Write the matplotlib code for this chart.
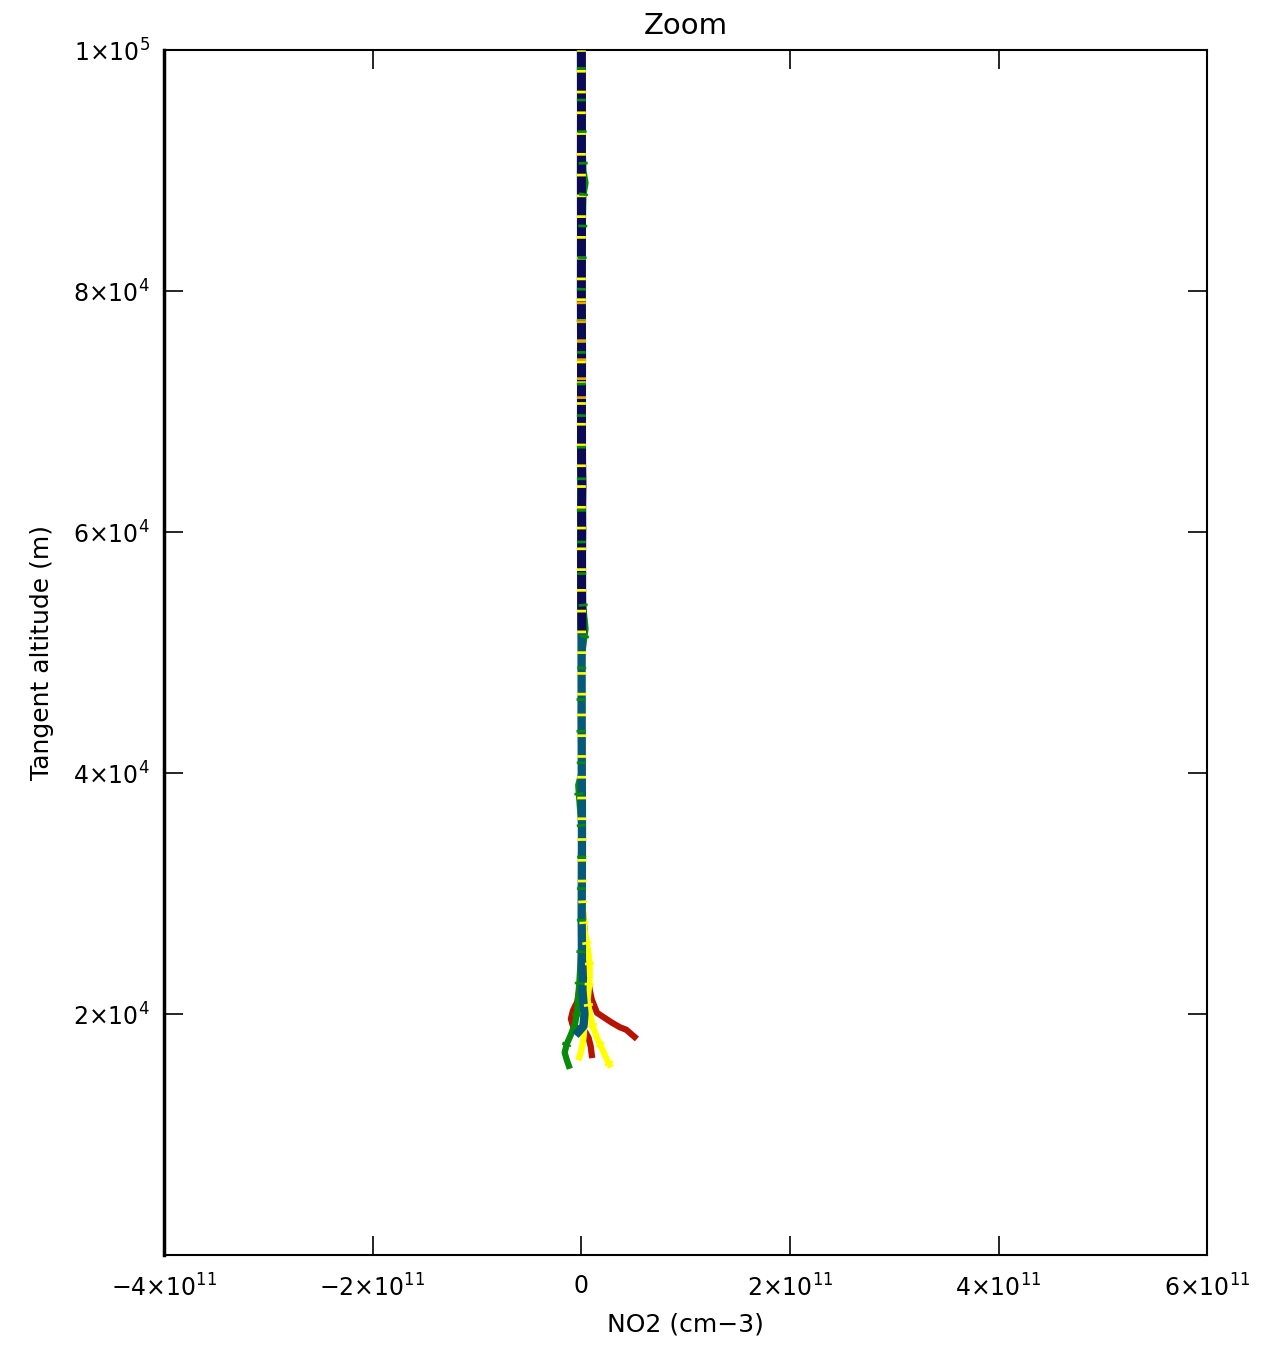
import numpy as np
import matplotlib
matplotlib.use("Agg")
import matplotlib.pyplot as plt
from matplotlib.ticker import FuncFormatter, FixedLocator

# profiles: altitude in km, NO2 in 1e9 cm-3
navy_alt = [52, 55, 58, 60, 62, 64, 66, 70, 75, 80, 85, 90, 95, 100]
navy_x = [0.5, 0.3, 0.2, 0.4, 0.3, 0.6, 0.2, 0.1, 0.2, 0.0, 0.1, 0.0, 0.1, 0.0]

teal_alt = [18.5, 19, 20, 21, 22, 23, 24, 26, 28, 30, 35, 40, 45, 50, 55, 60, 70, 80, 90, 100]
teal_x = [-3, 2, 3, 2, 1, 1.5, 0.5, 0.5, 0.3, 0.4, 0.6, 0.4, 0.3, 0.2, 0.1, 0, 0, 0, 0, 0]

yellow_alt = [15.8, 16.5, 17.3, 18.0, 19.0, 20.0, 21.2, 22, 23, 24, 25, 26, 27, 28, 30,
              35, 40, 45, 50, 55, 60, 70, 80, 90, 100]
yellow_x = [27, 23, 19, 15, 11, 8, 6, 7, 8, 8, 7, 5, 3, 2, 1,
            0.5, 0.3, 0.2, 0.2, 0.1, 0, 0, 0, 0, 0]

yellow2_alt = [16.4, 17.0, 18.0, 19.0, 20.0]
yellow2_x = [-2, 0, 2, 3, 5]

green_alt = [15.7, 16.2, 16.8, 17.5, 18.3, 19.2, 20.2, 21.5, 22.5, 24, 26, 30, 35, 39, 40,
             45, 48, 50, 52, 55, 60, 70, 80, 88, 89, 90, 95, 100]
green_x = [-12, -14, -16, -14, -10, -6, -4, -3, -2, -1, 0, 0, 0.5, -3, 0,
           -0.5, 0, 1, 4, 0.5, 0, 0, 0, 2, 4, 2, 0, 0]

red1_alt = [18.1, 18.7, 18.9, 19.3, 19.7, 20.1, 21.2, 22, 23, 24, 25, 26, 27, 28, 29, 30, 40, 60, 80, 100]
red1_x = [51, 43, 37, 29, 22, 15, 10, 8, 6, 5, 4, 3, 3, 2, 1, 0, 0, 0, 0, 0]

red2_alt = [16.6, 17.3, 18.0, 18.5, 19.0, 19.6, 20.3, 21, 22, 23]
red2_x = [10, 9, 7, 4, -8, -10, -8, -4, -2, 0]

orange_alt = [70, 72, 74, 76, 78, 80]
orange_x = [0, 0, 0, 0, 0, 0]

xticks = [-4e11, -2e11, 0, 2e11, 4e11, 6e11]
yticks = [2e4, 4e4, 6e4, 8e4, 1e5]

navy = '#0a0a55'
teal = '#065a78'
green = '#0a8a0a'
yellow = '#ffff00'
red = '#b41400'
orange = '#e8a800'


def conv(x, a):
    return np.array(x) * 1e9, np.array(a) * 1000


fig = plt.figure(figsize=(12.71, 13.49), dpi=100)
ax = fig.add_axes([0.129, 0.0697, 0.821, 0.893])

x, y = conv(red1_x, red1_alt)
ax.plot(x, y, color=red, lw=4.5, zorder=2)
x, y = conv(red2_x, red2_alt)
ax.plot(x, y, color=red, lw=4.5, zorder=2)
x, y = conv(green_x, green_alt)
ax.plot(x, y, color=green, lw=4.5, zorder=2)
x, y = conv(yellow_x, yellow_alt)
ax.plot(x, y, color=yellow, lw=4.5, zorder=3)
x, y = conv(yellow2_x, yellow2_alt)
ax.plot(x, y, color=yellow, lw=4.5, zorder=3)
x, y = conv(teal_x, teal_alt)
ax.plot(x, y, color=teal, lw=6, zorder=4)
x, y = conv(navy_x, navy_alt)
ax.plot(x, y, color=navy, lw=6.5, zorder=5)

# striped overlays seen on top of the stem
x, y = conv(yellow_x, yellow_alt)
ax.plot(x, y, color=yellow, lw=6.5, ls=(0, (0.3, 2.0)), zorder=6)
x, y = conv(green_x, green_alt)
ax.plot(x, y, color=green, lw=6.5, ls=(1.2, (0.3, 3.2)), zorder=6)
x, y = conv(orange_x, orange_alt)
ax.plot(x, y, color=orange, lw=6.5, ls=(0.6, (0.3, 1.8)), zorder=7)

ax.set_xlim(-4e11, 6e11)
ax.set_ylim(0, 1e5)


def sci(v, pos):
    if v == 0:
        return '0'
    e = int(np.floor(np.log10(abs(v))))
    m = v / 10 ** e
    s = '%d' % round(m)
    if s.startswith('-'):
        s = '\u2212' + s[1:]
    return r'$%s{\times}10^{%d}$' % (s, e)


ax.xaxis.set_major_locator(FixedLocator(xticks))
ax.yaxis.set_major_locator(FixedLocator(yticks))
ax.xaxis.set_major_formatter(FuncFormatter(sci))
ax.yaxis.set_major_formatter(FuncFormatter(sci))
ax.tick_params(direction='in', length=14, width=1.2, top=True, right=True,
               labelsize=17, pad=10)
ax.tick_params(axis='x', pad=14)
for s in ax.spines.values():
    s.set_linewidth(1.5)
ax.spines['left'].set_linewidth(2.5)

ax.set_title('Zoom', fontsize=21, pad=12)
ax.set_xlabel('NO2 (cm\u22123)', fontsize=18, labelpad=8)
ax.set_ylabel('Tangent altitude (m)', fontsize=18, labelpad=14)

fig.savefig('out.png', dpi=100, facecolor='white')
